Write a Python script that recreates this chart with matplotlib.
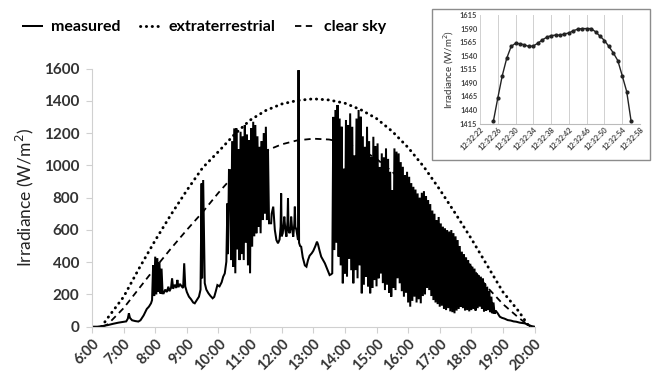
import numpy as np
import matplotlib.pyplot as plt
from matplotlib.patches import Rectangle

plt.rcParams['font.family'] = ['Lato', 'DejaVu Sans']

# ---- data ----
hour_ticks = list(range(6, 21))

extra_t = ["6:18", "6:30", "7:00", "7:30", "8:00", "8:30", "9:00", "9:30", "10:00", "10:30",
           "11:00", "11:30", "12:00", "12:30", "13:00", "13:30", "14:00", "14:30", "15:00",
           "15:30", "16:00", "16:30", "17:00", "17:30", "18:00", "18:30", "19:00", "19:30", "19:50"]
extra_v = [0, 55, 185, 365, 535, 695, 845, 985, 1085, 1190,
           1280, 1340, 1380, 1402, 1412, 1405, 1385, 1345, 1290,
           1210, 1110, 990, 850, 700, 545, 380, 215, 95, 0]

clear_t = ["6:20", "6:30", "7:00", "7:30", "8:00", "8:30", "9:00", "9:30", "10:00", "10:30",
           "11:00", "11:30", "12:00", "12:30", "13:00", "13:30", "14:00", "14:30", "15:00",
           "15:30", "16:00", "16:30", "17:00", "17:30", "18:00", "18:30", "19:00", "19:30", "19:52"]
clear_v = [0, 15, 115, 240, 365, 485, 600, 710, 830, 940,
           1020, 1090, 1130, 1155, 1165, 1160, 1140, 1100, 1040,
           960, 860, 745, 630, 500, 370, 245, 140, 55, 0]

# measured, slowly varying stretches
meas_t = ["6:00", "6:10", "6:20", "6:30", "6:40", "6:50", "7:00", "7:05", "7:08", "7:10",
          "7:12", "7:16", "7:22", "7:28", "7:32", "7:38", "7:44", "7:48", "7:52", "7:54",
          "8:16", "8:19", "8:22", "8:25", "8:27", "8:30", "8:32", "8:34", "8:37", "8:40",
          "8:42", "8:44", "8:47", "8:50", "8:53", "8:55", "8:57", "9:00", "9:04", "9:08",
          "9:12", "9:15", "9:19", "9:23", "9:26", "9:28", "9:29", "9:31", "9:32", "9:34",
          "9:37", "9:41", "9:45", "9:49", "9:52", "9:55", "9:58", "10:02", "10:06", "10:09",
          "10:12", "10:15", "10:17", "10:18", "10:20",
          "11:40", "11:41", "11:44", "11:47", "11:50", "11:53", "11:56", "11:58", "11:59", "12:00",
          "12:02", "12:04", "12:05", "12:07", "12:09", "12:11", "12:12", "12:13", "12:15", "12:17",
          "12:18", "12:20", "12:22", "12:24", "12:25", "12:26", "12:28", "12:30", "12:31", "12:32",
          "12:33", "12:35", "12:37", "12:40", "12:44", "12:47", "12:50", "12:53", "12:57", "13:00",
          "13:04", "13:07", "13:09", "13:12", "13:15", "13:19", "13:22", "13:26", "13:31", "13:34",
          "13:36",
          "18:46", "18:50", "18:54", "18:58", "19:03", "19:09", "19:15", "19:20", "19:25", "19:32",
          "19:41", "19:48", "19:54", "20:00"]
meas_v = [0, 0, 4, 10, 18, 25, 30, 33, 50, 83,
          55, 40, 35, 32, 40, 70, 110, 124, 145, 165,
          207, 230, 215, 248, 220, 240, 300, 235, 260, 240,
          290, 245, 265, 250, 240, 393, 250, 215, 186, 170,
          150, 145, 165, 186, 230, 888, 300, 909, 690, 270,
          230, 207, 190, 176, 185, 220, 258, 250, 275, 310,
          330, 403, 764, 450, 971,
          641, 700, 744, 600, 537, 517, 540, 620, 826, 560,
          579, 640, 682, 600, 558, 650, 796, 600, 579, 620,
          682, 600, 558, 640, 744, 620, 599, 560, 537, 1590,
          520, 500, 496, 430, 380, 372, 413, 440, 455, 470,
          500, 527, 510, 470, 434, 410, 393, 360, 320, 325,
          331,
          100, 83, 62, 55, 50, 41, 38, 33, 31, 25,
          21, 12, 4, 0]

# fast fluctuating stretches, one reading every 2 min (peak, dip, peak, dip ...)
burst_a_start = "7:56"
burst_a = [380, 190, 434, 200, 425, 215, 400, 205, 360, 207]

burst_b_start = "10:22"
burst_b = [970, 413, 1150, 370, 1229, 331, 1229, 480, 1100, 413,
           1208, 450, 1180, 413, 1250, 520, 1190, 380, 1157, 331,
           1230, 496, 1270, 560, 1250, 579, 1180, 620, 1115, 579,
           1150, 661, 1200, 700, 1239, 661, 1100, 641]

burst_c_start = "13:38"
burst_c = [1300, 475, 1343, 520, 1374, 434, 1290, 380, 1239, 269,
           980, 330, 1281, 310, 1250, 420, 1322, 350, 1239, 269,
           1060, 351, 1290, 300, 1343, 380, 1301, 207, 1180, 260,
           1115, 310, 1239, 250, 1150, 207, 1053, 240, 1177, 289,
           1120, 250, 1136, 300, 990, 331, 1074, 270, 1050, 227,
           1105, 260, 1040, 210, 960, 186, 847, 240, 1105, 227,
           1085, 300, 1074, 269, 1020, 220, 991, 186, 940, 210,
           960, 150, 929, 124, 890, 160, 867, 186, 850, 150,
           826, 170, 800, 145, 830, 190, 840, 200, 810, 240,
           785, 227, 760, 190, 720, 165, 700, 150, 661, 140,
           680, 124, 640, 130, 620, 110, 610, 103, 599, 115,
           590, 95, 599, 90, 580, 83, 560, 100, 537, 110,
           500, 124, 465, 115, 450, 100, 430, 103, 413, 95,
           390, 103, 372, 110, 360, 100, 331, 115, 320, 124,
           310, 110, 300, 95, 270, 100, 248, 103, 220, 90,
           186, 83, 150, 80]

# inset: seconds around the 12:32 peak
inset_t = ["12:32:25", "12:32:26", "12:32:27", "12:32:28", "12:32:29", "12:32:30", "12:32:31",
           "12:32:32", "12:32:33", "12:32:34", "12:32:35", "12:32:36", "12:32:37", "12:32:38",
           "12:32:39", "12:32:40", "12:32:41", "12:32:42", "12:32:43", "12:32:44", "12:32:45",
           "12:32:46", "12:32:47", "12:32:48", "12:32:49", "12:32:50", "12:32:51", "12:32:52",
           "12:32:53", "12:32:54", "12:32:55", "12:32:56"]
inset_v = [1419, 1462, 1503, 1535, 1557, 1563, 1562,
           1560, 1557, 1558, 1563, 1569, 1574, 1577,
           1578, 1578, 1580, 1582, 1586, 1589, 1590,
           1590, 1590, 1584, 1576, 1568, 1557, 1545,
           1531, 1503, 1474, 1419]
inset_ticks = ["12:32:22", "12:32:26", "12:32:30", "12:32:34", "12:32:38", "12:32:42",
               "12:32:46", "12:32:50", "12:32:54", "12:32:58"]


def to_h(s):
    p = s.split(":")
    return int(p[0]) + int(p[1]) / 60


def to_sec(s):
    return int(s.split(":")[2])


def burst(start, vals):
    t0 = to_h(start)
    return [t0 + 2 * i / 60 for i in range(len(vals))], list(vals)


# stitch measured series in time order
mt = [to_h(s) for s in meas_t]
mv = list(meas_v)
for st, vals in [(burst_a_start, burst_a), (burst_b_start, burst_b), (burst_c_start, burst_c)]:
    bt, bv = burst(st, vals)
    mt += bt
    mv += bv
order = np.argsort(mt, kind="stable")
mt = np.array(mt)[order]
mv = np.array(mv)[order]

# ---- figure ----
fig = plt.figure(figsize=(6.59, 3.76), dpi=100)
ax = fig.add_axes([0.1396, 0.1311, 0.6716, 0.6867])

l1, = ax.plot(mt, mv, color="black", lw=1.45, solid_joinstyle="miter", label="measured")
l2, = ax.plot([to_h(s) for s in extra_t], extra_v, color="black", lw=2.1,
              linestyle=(0, (0.1, 1.9)), dash_capstyle="round", label="extraterrestrial")
l3, = ax.plot([to_h(s) for s in clear_t], clear_v, color="black", lw=1.3,
              linestyle=(0, (3.5, 2.5)), label="clear sky")

ax.set_xlim(6, 20)
ax.set_ylim(0, 1600)
ax.set_xticks(hour_ticks)
ax.set_xticklabels([f"{h}:00" for h in hour_ticks], rotation=45, ha="right",
                   rotation_mode="anchor", fontsize=10.5, fontweight="bold", color="#333333")
ax.set_yticks(range(0, 1601, 200))
ax.set_yticklabels([str(v) for v in range(0, 1601, 200)], fontsize=11,
                   fontweight="bold", color="#333333")
ax.tick_params(axis="both", color="#d0d0d0", length=4, width=0.8)
ax.tick_params(axis="y", pad=5)
ax.tick_params(axis="x", pad=3)
for s in ["top", "right"]:
    ax.spines[s].set_visible(False)
for s in ["left", "bottom"]:
    ax.spines[s].set_color("#d0d0d0")
    ax.spines[s].set_linewidth(0.8)
ax.set_ylabel("Irradiance (W/m$^2$)", fontsize=12.5, color="#222222", labelpad=6)

fig.legend(handles=[l1, l2, l3], loc="center", bbox_to_anchor=(0.31, 0.928), ncol=3,
           frameon=False, handlelength=1.2, handletextpad=0.6, columnspacing=1.2,
           prop={"size": 11.5, "weight": "bold"})

# ---- inset ----
box = Rectangle((0.6555, 0.5745), 0.3308, 0.4016, transform=fig.transFigure,
                facecolor="white", edgecolor="#8c8c8c", lw=1.0, zorder=2)
fig.add_artist(box)
ins = fig.add_axes([0.7284, 0.6715, 0.2428, 0.2886])
ins.set_zorder(3)
ins.patch.set_alpha(0)
ins.plot([to_sec(s) for s in inset_t], inset_v, color="#222222", lw=1.0,
         marker="o", markersize=2.0)
ins.set_xlim(22, 58)
ins.set_ylim(1415, 1615)
ins.set_xticks([to_sec(s) for s in inset_ticks])
ins.set_xticklabels(inset_ticks, rotation=45, ha="right", rotation_mode="anchor",
                    fontsize=5.3, fontweight="bold", color="#444444")
ins.set_yticks(range(1415, 1616, 25))
ins.set_yticklabels([str(v) for v in range(1415, 1616, 25)], fontsize=5.3,
                    fontweight="bold", color="#444444")
ins.tick_params(length=0, pad=2)
ins.grid(axis="x", color="#d0d0d0", lw=0.7)
for s in ["top", "right", "left"]:
    ins.spines[s].set_visible(False)
ins.spines["bottom"].set_color("#bbbbbb")
ins.set_ylabel("Irradiance (W/m$^2$)", fontsize=7, color="#333333", labelpad=3)

fig.savefig("out.png", dpi=100)
